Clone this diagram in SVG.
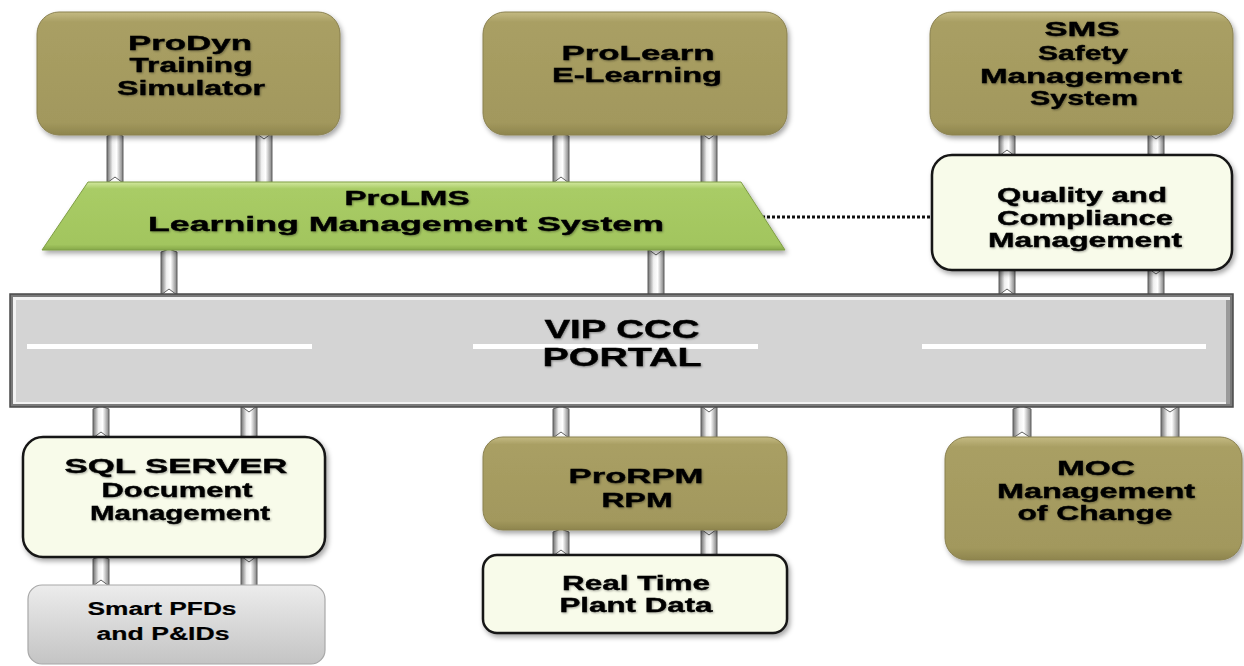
<svg xmlns="http://www.w3.org/2000/svg" width="1244" height="666" viewBox="0 0 1244 666">
<defs>
  <linearGradient id="olive" x1="0" y1="0" x2="0" y2="1">
    <stop offset="0" stop-color="#c4ba82"/>
    <stop offset="0.08" stop-color="#a99f64"/>
    <stop offset="0.9" stop-color="#a2985d"/>
    <stop offset="1" stop-color="#8e854d"/>
  </linearGradient>
  <linearGradient id="green" x1="0" y1="0" x2="0" y2="1">
    <stop offset="0" stop-color="#d3e8a0"/>
    <stop offset="0.1" stop-color="#a9cc66"/>
    <stop offset="0.92" stop-color="#a2c55e"/>
    <stop offset="1" stop-color="#86a84a"/>
  </linearGradient>
  <linearGradient id="gray" x1="0" y1="0" x2="0" y2="1">
    <stop offset="0" stop-color="#ececec"/>
    <stop offset="1" stop-color="#c4c4c4"/>
  </linearGradient>
  <linearGradient id="pipe" x1="0" y1="0" x2="1" y2="0">
    <stop offset="0" stop-color="#6e6e6e"/>
    <stop offset="0.35" stop-color="#f0f0f0"/>
    <stop offset="0.6" stop-color="#ffffff"/>
    <stop offset="1" stop-color="#7e7e7e"/>
  </linearGradient>
  <filter id="sh" x="-10%" y="-10%" width="125%" height="130%">
    <feDropShadow dx="2" dy="3" stdDeviation="2.5" flood-color="#000" flood-opacity="0.35"/>
  </filter>
  <filter id="tsh" x="-5%" y="-20%" width="110%" height="150%">
    <feDropShadow dx="1" dy="1" stdDeviation="0.8" flood-color="#000" flood-opacity="0.35"/>
  </filter>
</defs>
<style>
  .olive { fill: url(#olive); stroke: #8a8150; stroke-width: 1; filter: url(#sh); }
  .cream { fill: #f8fbea; stroke: #161616; stroke-width: 2.5; filter: url(#sh); }
  .lgray { fill: url(#gray); stroke: #a8a8a8; stroke-width: 1.2; }
  .pipe { fill: url(#pipe); stroke: #5e5e5e; stroke-width: 1; }
  text { font-family: "Liberation Sans", Arial, sans-serif; font-weight: bold; fill: #000; text-anchor: middle; }
  .t { font-size: 21px; stroke: #000; stroke-width: 0.4; filter: url(#tsh); }
  .s { font-size: 18px; stroke: #000; stroke-width: 0.2; }
  .p { font-size: 26px; stroke: #000; stroke-width: 0.4; filter: url(#tsh); }
</style>
<rect width="1244" height="666" fill="#ffffff"/>

<g id="connectors">
  <polygon class="pipe" points="107,136 115,133 123,136 123,183 115,177 107,183"/>
  <polygon class="pipe" points="256,133 264,139 272,133 272,183 264,185 256,183"/>
  <polygon class="pipe" points="553,136 561,133 569,136 569,183 561,177 553,183"/>
  <polygon class="pipe" points="701,133 709,139 717,133 717,183 709,185 701,183"/>
  <polygon class="pipe" points="161,252 169,249 177,252 177,295 169,289 161,295"/>
  <polygon class="pipe" points="648,249 656,255 664,249 664,295 656,297 648,295"/>
  <polygon class="pipe" points="999,136 1007,133 1015,136 1015,156 1007,150 999,156"/>
  <polygon class="pipe" points="1148,133 1156,139 1164,133 1164,156 1156,158 1148,156"/>
  <polygon class="pipe" points="999,271 1007,268 1015,271 1015,295 1007,289 999,295"/>
  <polygon class="pipe" points="1148,268 1156,274 1164,268 1164,295 1156,297 1148,295"/>
  <polygon class="pipe" points="93,409 101,406 109,409 109,438 101,432 93,438"/>
  <polygon class="pipe" points="241,406 249,412 257,406 257,438 249,440 241,438"/>
  <polygon class="pipe" points="93,559 101,556 109,559 109,586 101,580 93,586"/>
  <polygon class="pipe" points="241,556 249,562 257,556 257,586 249,588 241,586"/>
  <polygon class="pipe" points="553,409 561,406 569,409 569,438 561,432 553,438"/>
  <polygon class="pipe" points="701,406 709,412 717,406 717,438 709,440 701,438"/>
  <polygon class="pipe" points="553,532 561,529 569,532 569,556 561,550 553,556"/>
  <polygon class="pipe" points="701,529 709,535 717,529 717,556 709,558 701,556"/>
  <polygon class="pipe" points="1013,409 1022,406 1031,409 1031,438 1022,432 1013,438"/>
  <polygon class="pipe" points="1161,406 1170,412 1179,406 1179,438 1170,440 1161,438"/>
  <line x1="762" y1="217" x2="931" y2="217" stroke="#111" stroke-width="3" stroke-dasharray="3,2"/>
</g>

<g id="portal">
  <rect x="10" y="294" width="1223" height="113" fill="#7a7a7a" stroke="#4a4a4a" stroke-width="1.5"/>
  <rect x="13" y="297" width="1217" height="107" fill="#f2f2f2"/>
  <rect x="16" y="300" width="1212" height="102" fill="#d4d4d4"/>
  <rect x="1226" y="300" width="4" height="104" fill="#9a9a9a"/>
  <rect x="27" y="344" width="285" height="5" fill="#ffffff"/>
  <rect x="473" y="344" width="285" height="5" fill="#ffffff"/>
  <rect x="922" y="344" width="284" height="5" fill="#ffffff"/>
  <text class="p" x="622" y="338" textLength="155" lengthAdjust="spacingAndGlyphs">VIP CCC</text>
  <text class="p" x="622" y="366" textLength="159" lengthAdjust="spacingAndGlyphs">PORTAL</text>
</g>

<g id="prodyn">
  <rect class="olive" x="37" y="12" width="303" height="123" rx="22"/>
  <text class="t" x="190" y="50" textLength="124" lengthAdjust="spacingAndGlyphs">ProDyn</text>
  <text class="t" x="191" y="72" textLength="123" lengthAdjust="spacingAndGlyphs">Training</text>
  <text class="t" x="191" y="95" textLength="148" lengthAdjust="spacingAndGlyphs">Simulator</text>
</g>

<g id="prolearn">
  <rect class="olive" x="483" y="12" width="304" height="123" rx="22"/>
  <text class="t" x="638" y="60" textLength="153" lengthAdjust="spacingAndGlyphs">ProLearn</text>
  <text class="t" x="637" y="82" textLength="170" lengthAdjust="spacingAndGlyphs">E-Learning</text>
</g>

<g id="sms">
  <rect class="olive" x="930" y="12" width="303" height="123" rx="22"/>
  <text class="t" x="1082" y="36" textLength="75" lengthAdjust="spacingAndGlyphs">SMS</text>
  <text class="t" x="1083" y="60" textLength="90" lengthAdjust="spacingAndGlyphs">Safety</text>
  <text class="t" x="1081" y="83" textLength="202" lengthAdjust="spacingAndGlyphs">Management</text>
  <text class="t" x="1084" y="105" textLength="108" lengthAdjust="spacingAndGlyphs">System</text>
</g>

<g id="prolms">
  <polygon points="88,182 741,182 785,250 42,250" fill="url(#green)" stroke="#7f9e45" stroke-width="1" filter="url(#sh)"/>
  <text class="t" x="407" y="205" textLength="125" lengthAdjust="spacingAndGlyphs">ProLMS</text>
  <text class="t" x="406" y="231" textLength="516" lengthAdjust="spacingAndGlyphs">Learning Management System</text>
</g>

<g id="quality">
  <rect class="cream" x="932" y="155" width="300" height="115" rx="20"/>
  <text class="t" x="1082" y="202" textLength="170" lengthAdjust="spacingAndGlyphs">Quality and</text>
  <text class="t" x="1085" y="225" textLength="176" lengthAdjust="spacingAndGlyphs">Compliance</text>
  <text class="t" x="1085" y="247" textLength="194" lengthAdjust="spacingAndGlyphs">Management</text>
</g>

<g id="sqlserver">
  <rect class="cream" x="23" y="437" width="302" height="120" rx="20"/>
  <text class="t" x="176" y="473" textLength="223" lengthAdjust="spacingAndGlyphs">SQL SERVER</text>
  <text class="t" x="177" y="497" textLength="151" lengthAdjust="spacingAndGlyphs">Document</text>
  <text class="t" x="180" y="520" textLength="180" lengthAdjust="spacingAndGlyphs">Management</text>
</g>

<g id="smartpfds">
  <rect class="lgray" x="28" y="585" width="297" height="79" rx="14"/>
  <text class="s" x="162" y="615" textLength="149" lengthAdjust="spacingAndGlyphs">Smart PFDs</text>
  <text class="s" x="163" y="640" textLength="133" lengthAdjust="spacingAndGlyphs">and P&amp;IDs</text>
</g>

<g id="prorpm">
  <rect class="olive" x="483" y="437" width="304" height="93" rx="20"/>
  <text class="t" x="636" y="483" textLength="135" lengthAdjust="spacingAndGlyphs">ProRPM</text>
  <text class="t" x="637" y="507" textLength="71" lengthAdjust="spacingAndGlyphs">RPM</text>
</g>

<g id="realtime">
  <rect class="cream" x="483" y="555" width="304" height="78" rx="14"/>
  <text class="t" x="636" y="590" textLength="148" lengthAdjust="spacingAndGlyphs">Real Time</text>
  <text class="t" x="636" y="612" textLength="153" lengthAdjust="spacingAndGlyphs">Plant Data</text>
</g>

<g id="moc">
  <rect class="olive" x="945" y="437" width="297" height="123" rx="22"/>
  <text class="t" x="1096" y="475" textLength="78" lengthAdjust="spacingAndGlyphs">MOC</text>
  <text class="t" x="1096" y="498" textLength="198" lengthAdjust="spacingAndGlyphs">Management</text>
  <text class="t" x="1095" y="520" textLength="155" lengthAdjust="spacingAndGlyphs">of Change</text>
</g>
</svg>
